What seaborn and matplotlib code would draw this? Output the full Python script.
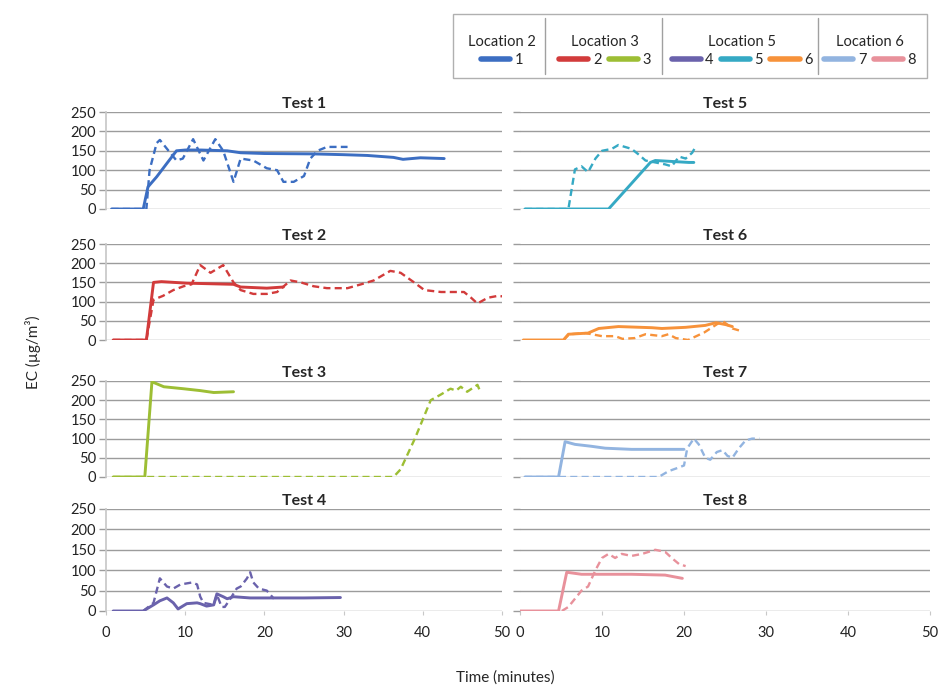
import matplotlib
matplotlib.use("Agg")
import matplotlib.pyplot as plt
from matplotlib.lines import Line2D
from matplotlib.patches import Rectangle
import seaborn as sns

# series colours (1..8)
colors = ['#3C6EC2', '#D23B3B', '#9DBE34', '#6A62AC',
          '#35A9C4', '#F7923A', '#92B4E0', '#E8919B']

# Test 1 - Location 2, series 1
t1_solid_x = [0.7, 4.7, 5.3, 6.4, 7.7, 8.9, 10, 12, 15.3, 17, 20, 26.2, 30, 33, 36.3, 37.5, 39.7, 42.7]
t1_solid_y = [0, 0, 57, 83, 118, 150, 152, 152, 150, 145, 143, 142, 140, 138, 133, 128, 132, 130]
t1_dash_x = [0.7, 5.1, 5.5, 6.4, 6.8, 7.9, 8.9, 9.7, 11.0, 12.3, 13.8, 14.8, 16.1, 17.0, 18.6,
             20.3, 21.6, 22.4, 23.7, 25.0, 25.8, 26.7, 27.9, 30.5]
t1_dash_y = [0, 0, 100, 170, 178, 150, 125, 130, 180, 125, 180, 150, 70, 130, 125,
             105, 100, 70, 70, 85, 130, 150, 160, 160]

# Test 2 - Location 3, series 2
t2_solid_x = [0.9, 5.1, 6.0, 7.0, 10.2, 16.1, 17.0, 20.3, 22.4]
t2_solid_y = [0, 0, 150, 152, 148, 145, 138, 135, 138]
t2_dash_x = [0.9, 5.1, 6.0, 7.2, 8.5, 9.8, 10.8, 11.9, 13.2, 14.8, 16.1, 17.0, 18.6, 20.3, 21.6,
             23.3, 24.6, 26.2, 27.9, 30.5, 32.2, 33.8, 35.9, 37.2, 38.9, 40.2, 42.3, 45.2, 46.1,
             46.9, 48.2, 49.5, 50.7]
t2_dash_y = [0, 0, 105, 115, 130, 140, 145, 195, 175, 195, 150, 130, 120, 120, 125,
             155, 150, 140, 135, 135, 145, 155, 180, 175, 150, 130, 125, 125, 110,
             95, 110, 115, 112]

# Test 3 - Location 3, series 3
t3_solid_x = [0.9, 4.9, 5.8, 7.3, 9.7, 11.9, 13.6, 16.1]
t3_solid_y = [0, 0, 248, 235, 230, 225, 220, 222]
t3_dash_x = [0.9, 36.3, 37.2, 39.0, 40.0, 41.0, 42.3, 43.5, 44.2, 44.8, 45.6, 46.9, 47.3]
t3_dash_y = [0, 0, 20, 100, 150, 200, 215, 230, 225, 235, 222, 240, 220]

# Test 4 - Location 5, series 4
t4_solid_x = [0.9, 4.7, 6.0, 6.8, 7.7, 8.5, 9.1, 10.2, 11.5, 11.9, 12.7, 13.6, 14.0, 14.8,
              15.3, 16.1, 18.2, 25, 29.6]
t4_solid_y = [0, 0, 15, 25, 32, 20, 5, 18, 20, 18, 12, 15, 42, 35, 30, 35, 32, 32, 33]
t4_dash_x = [4.7, 6.0, 6.8, 7.7, 8.5, 9.4, 10.9, 11.5, 11.9, 12.3, 13.6, 14.0, 14.6, 15.0,
             15.7, 16.5, 17.0, 17.8, 18.2, 18.6, 19.3, 20.3, 21.2]
t4_dash_y = [0, 20, 80, 60, 55, 65, 70, 65, 35, 20, 15, 40, 10, 10,
             30, 55, 60, 80, 95, 70, 55, 50, 30]

# Test 5 - Location 5, series 5
t5_solid_x = [0.6, 10.8, 15.9, 16.5, 20.6, 21.2]
t5_solid_y = [0, 0, 120, 125, 120, 120]
t5_dash_x = [0.6, 5.9, 6.7, 7.5, 8.3, 9.2, 10.0, 11.2, 12.0, 12.8, 13.6, 14.5, 15.3, 16.5,
             17.7, 18.5, 19.4, 20.2, 21.0, 21.4]
t5_dash_y = [0, 0, 102, 110, 95, 130, 150, 155, 165, 160, 155, 140, 125, 120,
             115, 110, 135, 130, 145, 160]

# Test 6 - Location 5, series 6
t6_solid_x = [0.4, 5.3, 5.9, 8.3, 9.6, 12.0, 16.1, 17.3, 20.2, 22.6, 23.9, 25.1, 25.9]
t6_solid_y = [0, 0, 15, 18, 30, 35, 32, 30, 33, 38, 45, 40, 35]
t6_dash_x = [5.3, 6.0, 8.0, 10.0, 11.6, 12.5, 14.0, 15.3, 17.3, 18.1, 19.0, 20.5, 22.5,
             24.3, 24.8, 25.9, 26.7]
t6_dash_y = [0, 15, 18, 10, 10, 3, 5, 15, 10, 15, 5, 0, 20, 45, 48, 30, 25]

# Test 7 - Location 6, series 7
t7_solid_x = [0.6, 4.7, 5.5, 6.7, 8.7, 10.4, 13.6, 20.0]
t7_solid_y = [0, 0, 92, 85, 80, 75, 72, 72]
t7_dash_x = [0.6, 16.9, 18.1, 19.4, 20.0, 20.4, 21.2, 21.8, 22.6, 23.2, 24.0, 24.7, 25.3,
             25.9, 26.7, 27.5, 28.3, 29.2]
t7_dash_y = [0, 0, 15, 25, 30, 75, 100, 85, 50, 45, 65, 70, 55, 50, 75, 95, 100, 100]

# Test 8 - Location 6, series 8
t8_solid_x = [0.0, 4.7, 5.7, 7.5, 13.6, 17.7, 19.8]
t8_solid_y = [0, 0, 95, 90, 90, 88, 80]
t8_dash_x = [5.1, 5.9, 6.7, 7.5, 8.3, 9.2, 10.0, 10.8, 11.6, 12.4, 13.6, 14.9, 15.7, 16.5,
             17.7, 18.5, 19.4, 20.2]
t8_dash_y = [0, 10, 30, 50, 60, 100, 130, 140, 130, 140, 135, 140, 145, 150,
             145, 130, 115, 110]

tests = [
    ('Test 1', t1_solid_x, t1_solid_y, t1_dash_x, t1_dash_y),
    ('Test 2', t2_solid_x, t2_solid_y, t2_dash_x, t2_dash_y),
    ('Test 3', t3_solid_x, t3_solid_y, t3_dash_x, t3_dash_y),
    ('Test 4', t4_solid_x, t4_solid_y, t4_dash_x, t4_dash_y),
    ('Test 5', t5_solid_x, t5_solid_y, t5_dash_x, t5_dash_y),
    ('Test 6', t6_solid_x, t6_solid_y, t6_dash_x, t6_dash_y),
    ('Test 7', t7_solid_x, t7_solid_y, t7_dash_x, t7_dash_y),
    ('Test 8', t8_solid_x, t8_solid_y, t8_dash_x, t8_dash_y),
]

legend_groups = [('Location 2', ['1']), ('Location 3', ['2', '3']),
                 ('Location 5', ['4', '5', '6']), ('Location 6', ['7', '8'])]

y_ticks = [0, 50, 100, 150, 200, 250]
x_ticks = [0, 10, 20, 30, 40, 50]

sns.set_theme(style='white')
plt.rcParams['font.family'] = ['Lato', 'DejaVu Sans']

W, H = 942, 690
fig = plt.figure(figsize=(W / 100, H / 100), dpi=100)

# row extents in pixels (top, bottom)
rows = [(112, 209), (244, 340), (381, 477), (509, 611)]
cols = [(106, 502), (520, 930)]
grid_col = '#9c9c9c'

for i, (name, sx, sy, dx, dy) in enumerate(tests):
    c = i // 4
    r = i % 4
    top, bot = rows[r]
    left, right = cols[c]
    ax = fig.add_axes([left / W, 1 - bot / H, (right - left) / W, (bot - top) / H])
    sns.lineplot(x=sx, y=sy, ax=ax, color=colors[i], lw=2.1, estimator=None, sort=False)
    sns.lineplot(x=dx, y=dy, ax=ax, color=colors[i], lw=1.7, estimator=None, sort=False,
                 linestyle=(0, (3, 1.8)))
    ax.set_xlim(0, 50)
    ax.set_ylim(0, 250)
    ax.set_yticks(y_ticks)
    ax.set_xticks(x_ticks)
    ax.yaxis.grid(True, color=grid_col, lw=1.0)
    ax.xaxis.grid(False)
    ax.set_title(name, fontsize=11.5, fontweight='bold', pad=3)
    for s in ['top', 'right', 'bottom']:
        ax.spines[s].set_visible(False)
    ax.spines['left'].set_color('#c8c8c8')
    ax.spines['left'].set_visible(c == 0)
    ax.tick_params(axis='y', which='major', direction='out', length=5, width=1,
                   color=grid_col, labelsize=10.5, pad=2, left=True, labelcolor='#222222')
    ax.tick_params(axis='x', which='major', direction='out', length=3, width=0.8,
                   color='#c8c8c8', labelsize=10.5, pad=8, bottom=(r == 3), labelcolor='#222222')
    if c == 1:
        ax.set_yticklabels([])
    if r != 3:
        ax.set_xticklabels([])
    ax.set_xlabel('')
    ax.set_ylabel('')

fig.text(33 / W, 1 - 352 / H, 'EC (µg/m³)', rotation=90, ha='center', va='center', fontsize=11)
fig.text(505 / W, 1 - 678 / H, 'Time (minutes)', ha='center', va='center', fontsize=11)

# legend block
fig.patches.append(Rectangle((453 / W, 1 - 78 / H), (927 - 453) / W, (78 - 14) / H,
                             transform=fig.transFigure, fill=False, ec='#b0b0b0', lw=1.0))
for sx_ in [545, 662, 818]:
    fig.lines.append(Line2D([sx_ / W, sx_ / W], [1 - 74 / H, 1 - 18 / H],
                            transform=fig.transFigure, color='#a0a0a0', lw=1.0))
centers = [502, 605, 742, 870]
for (title, labs), cx in zip(legend_groups, centers):
    handles = [Line2D([0], [0], color=colors[int(l) - 1], lw=4) for l in labs]
    leg = fig.legend(handles, labs, title=title, loc='center', bbox_to_anchor=(cx / W, 1 - 51 / H),
                     ncol=len(labs), frameon=False, fontsize=10.5, title_fontsize=10.5,
                     handlelength=2.0, handletextpad=0.3, columnspacing=0.5,
                     borderpad=0, labelspacing=0)
    leg._legend_box.sep = 3

fig.savefig('out.png', dpi=100, facecolor='white')
